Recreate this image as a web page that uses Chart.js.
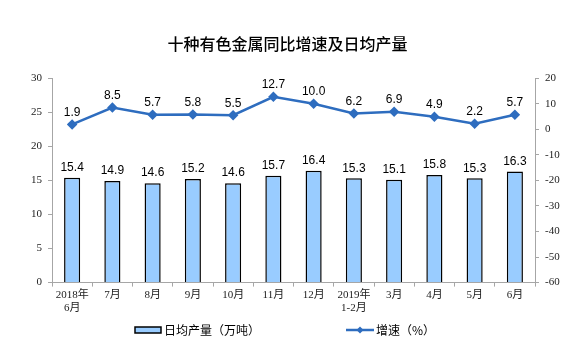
<!DOCTYPE html>
<html>
<head>
<meta charset="utf-8">
<script src="https://cdn.jsdelivr.net/npm/chart.js@4/dist/chart.umd.min.js"></script>
<style>
  html, body { margin: 0; padding: 0; background: #fff; }
  #wrap { position: relative; width: 575px; height: 350px; }
  .leg { position: absolute; top: 321px; font: 12px "Noto Sans CJK SC", sans-serif; color: #000; display: flex; align-items: center; }
  .leg canvas { margin-right: 2px; }
</style>
</head>
<body>
<div id="wrap">
  <canvas id="chart" width="575" height="350"></canvas>
  <div class="leg" style="left:134px"><canvas id="lg1" width="28" height="10"></canvas>日均产量（万吨）</div>
  <div class="leg" style="left:346px"><canvas id="lg2" width="28" height="10"></canvas>增速（%）</div>
</div>
<script>
// categories
var months = [["2018年", "6月"], "7月", "8月", "9月", "10月", "11月", "12月", ["2019年", "1-2月"], "3月", "4月", "5月", "6月"];
// daily output, 10k tonnes
var dailyOutput = [15.4, 14.9, 14.6, 15.2, 14.6, 15.7, 16.4, 15.3, 15.1, 15.8, 15.3, 16.3];
// growth rate, %
var growthRate = [1.9, 8.5, 5.7, 5.8, 5.5, 12.7, 10.0, 6.2, 6.9, 4.9, 2.2, 5.7];

var barFill = '#99CCFF';
var lineBlue = '#2E6DBF';
var axisGray = '#A6A6A6';
var tickFont = { family: '"Liberation Serif", "Noto Sans CJK SC", serif', size: 11 };

// little legend swatches
var c1 = document.getElementById('lg1').getContext('2d');
c1.fillStyle = barFill; c1.fillRect(1, 2, 26, 6);
c1.strokeStyle = '#000'; c1.lineWidth = 1.5; c1.strokeRect(1, 2, 26, 6);
var c2 = document.getElementById('lg2').getContext('2d');
c2.strokeStyle = lineBlue; c2.lineWidth = 2.5;
c2.beginPath(); c2.moveTo(0, 5); c2.lineTo(28, 5); c2.stroke();
c2.fillStyle = lineBlue;
c2.beginPath(); c2.moveTo(14, 1.5); c2.lineTo(17.5, 5); c2.lineTo(14, 8.5); c2.lineTo(10.5, 5); c2.closePath(); c2.fill();

// value labels above bars and points
var valueLabels = {
  id: 'valueLabels',
  afterDatasetsDraw: function (chart) {
    var ctx = chart.ctx;
    ctx.save();
    ctx.font = '12px "Liberation Sans", Arial, sans-serif';
    ctx.fillStyle = '#000';
    ctx.textAlign = 'center';
    ctx.textBaseline = 'bottom';
    chart.data.datasets.forEach(function (ds, i) {
      var meta = chart.getDatasetMeta(i);
      meta.data.forEach(function (el, j) {
        var gap = ds.type === 'line' ? 6 : 4;
        ctx.fillText(ds.data[j].toFixed(1), el.x, el.y - gap);
      });
    });
    ctx.restore();
  }
};

new Chart(document.getElementById('chart'), {
  data: {
    labels: months,
    datasets: [
      {
        type: 'line',
        label: '增速（%）',
        data: growthRate,
        yAxisID: 'y2',
        borderColor: lineBlue,
        backgroundColor: lineBlue,
        borderWidth: 2.5,
        pointStyle: 'rectRot',
        pointRadius: 3.5,
        tension: 0,
        order: 0
      },
      {
        type: 'bar',
        label: '日均产量（万吨）',
        data: dailyOutput,
        yAxisID: 'y',
        backgroundColor: barFill,
        borderColor: '#000',
        borderWidth: 1.5,
        barPercentage: 0.4,
        categoryPercentage: 1,
        order: 1
      }
    ]
  },
  options: {
    responsive: false,
    animation: false,
    layout: { padding: { top: 0, left: 0, right: 0, bottom: 33 } },
    plugins: {
      legend: { display: false },
      tooltip: { enabled: false },
      title: {
        display: true,
        text: '十种有色金属同比增速及日均产量',
        color: '#000',
        font: { family: '"Noto Sans CJK SC", sans-serif', size: 16, weight: '500' },
        padding: { top: 34, bottom: 25 }
      }
    },
    scales: {
      x: {
        offset: true,
        grid: { display: true, drawOnChartArea: false, offset: true, tickLength: 4, color: axisGray },
        border: { color: axisGray },
        ticks: { color: '#222', font: tickFont, maxRotation: 0, autoSkip: false, padding: 2 }
      },
      y: {
        position: 'left',
        min: 0, max: 30,
        ticks: { stepSize: 5, color: '#222', font: tickFont, padding: 6 },
        grid: { display: true, drawOnChartArea: false, tickLength: 4, color: axisGray },
        border: { color: axisGray },
        afterFit: function (s) { s.width = 52; }
      },
      y2: {
        position: 'right',
        min: -60, max: 20,
        ticks: { stepSize: 10, color: '#222', font: tickFont, padding: 6 },
        grid: { display: true, drawOnChartArea: false, tickLength: 4, color: axisGray },
        border: { color: axisGray },
        afterFit: function (s) { s.width = 40; }
      }
    }
  },
  plugins: [valueLabels]
});
</script>
</body>
</html>
